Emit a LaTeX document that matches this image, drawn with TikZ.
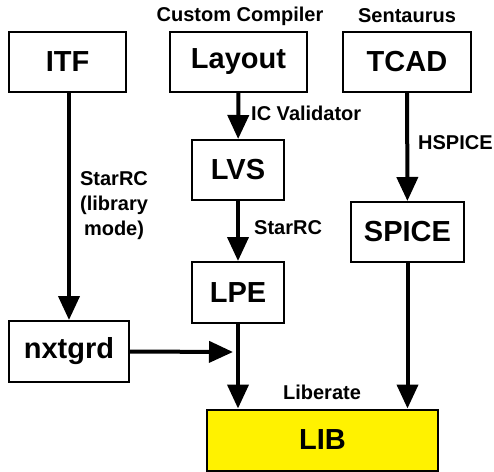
\documentclass[tikz,border=0pt]{standalone}
\usepackage{fontspec}
\setmainfont{Liberation Sans}
\usetikzlibrary{arrows.meta}
\begin{document}
\begin{tikzpicture}[x=1pt,y=-1pt,
  box/.style={draw=black,line width=2pt,fill=white,inner sep=0pt,font=\fontsize{29}{32}\selectfont\bfseries},
  lbl/.style={font=\fontsize{20}{24}\selectfont\bfseries,inner sep=0pt,align=center},
  arr/.style={line width=4pt,-{Triangle[length=24pt,width=21pt]}}]
\useasboundingbox (0,0) rectangle (494,471);
\node[box,minimum width=117pt,minimum height=60pt] (itf) at (67.5,62) {ITF};
\node[box,minimum width=137pt,minimum height=60pt] (layout) at (238.5,62) {Layout};
\node[box,minimum width=128pt,minimum height=60pt] (tcad) at (407,62) {TCAD};
\node[box,minimum width=92pt,minimum height=60pt] (lvs) at (238,170) {LVS};
\node[box,minimum width=92pt,minimum height=61pt] (lpe) at (238,292.5) {LPE};
\node[box,minimum width=113pt,minimum height=60pt] (spice) at (407.5,232) {SPICE};
\node[box,minimum width=120pt,minimum height=61pt] (nxt) at (69,351.5) {nxtgrd};
\node[box,fill=yellow,minimum width=231pt,minimum height=61pt] (lib) at (322.5,440) {LIB};
\node[lbl] (cc) at (240,16) {Custom Compiler};
\node[lbl] (sent) at (407,16) {Sentaurus};
\node[lbl,anchor=west] (icv) at (251,113) {IC Validator};
\node[lbl,anchor=west] (src1) at (254,228) {StarRC};
\node[lbl,anchor=west] (hsp) at (418,143) {HSPICE};
\node[lbl,font=\fontsize{20}{25}\selectfont\bfseries] (src2) at (114,206) {StarRC\\(library\\mode)};
\node[lbl] (libr) at (322,392) {Liberate};
\coordinate (merge) at (233,352);
\draw[arr] (layout) -- (lvs);
\draw[arr] (lvs) -- (lpe);
\draw[arr] (tcad) -- (spice);
\draw[arr] (itf.south -| nxt.north) -- (nxt.north);
\draw[arr] (nxt.east) -- (merge);
\draw[arr] (lpe.south) -- (lpe.south |- lib.north);
\draw[arr] (spice.south) -- (spice.south |- lib.north);
\end{tikzpicture}
\end{document}
